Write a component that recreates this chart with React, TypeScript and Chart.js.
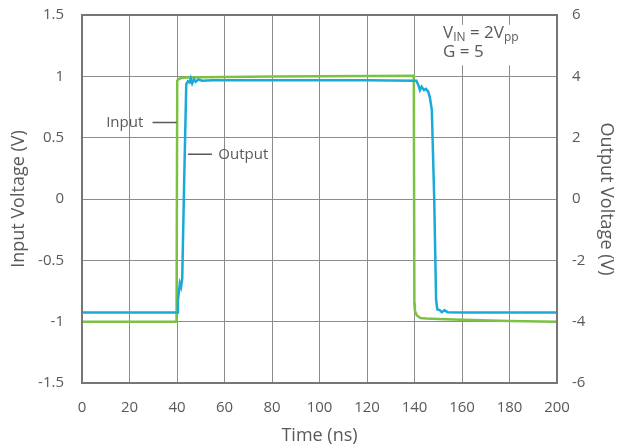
import React, { useEffect, useRef } from 'react';
import { Chart, registerables } from 'chart.js';
Chart.register(...registerables);

// ---- data ----
const inputTime = [0, 39.8, 40.1, 40.5, 41.2, 42, 44, 50, 60, 80, 100, 120, 139.7, 139.95, 140.15, 141, 142.5, 145, 150, 160, 180, 200];
const inputVolt = [-1, -1, 0.965, 0.975, 0.982, 0.986, 0.99, 0.993, 0.995, 0.998, 1.0, 1.003, 1.005, -0.85, -0.91, -0.95, -0.97, -0.975, -0.978, -0.985, -0.995, -1.0];

const outputTime = [0, 40.0, 40.4, 41.2, 41.7, 42.2, 43.0, 43.9, 44.6, 45.3, 45.8, 46.4, 47.2, 47.9, 49.0, 50.5, 55, 80, 120, 140.8, 141.6, 142.3, 143.0, 144.0, 144.8, 145.8, 146.5, 147.3, 148.3, 149.1, 149.6, 150.6, 151.5, 152.6, 154, 160, 200];
const outputVolt = [-3.7, -3.7, -3.3, -2.75, -2.87, -2.6, 0.5, 3.75, 3.84, 3.8, 3.93, 3.77, 3.91, 3.82, 3.9, 3.86, 3.87, 3.87, 3.87, 3.86, 3.72, 3.55, 3.66, 3.55, 3.59, 3.5, 3.3, 2.9, 0, -3.3, -3.6, -3.62, -3.69, -3.63, -3.69, -3.7, -3.7];

const xTitle = 'Time (ns)';
const yTitle = 'Input Voltage (V)';
const y2Title = 'Output Voltage (V)';
const inputLabel = 'Input';
const outputLabel = 'Output';

const FONT = '"Open Sans", sans-serif';
const TEXT = '#595959';
const GRID = '#8c8c8c';
const FRAME = '#767676';
const GREEN = '#7cc242';
const BLUE = '#19aad9';

export default function App() {
  const ref = useRef<HTMLCanvasElement>(null);
  useEffect(() => {
    document.body.style.margin = '0';
    const annot = {
      id: 'annot',
      beforeDatasetsDraw(chart: any) {
        const { ctx, chartArea } = chart;
        const x = chart.scales.x, y = chart.scales.y;
        ctx.save();
        // white box behind the condition text
        const bx = x.getPixelForValue(142.5);
        const bt = y.getPixelForValue(1.42);
        const bb = y.getPixelForValue(1.09);
        ctx.fillStyle = '#ffffff';
        ctx.fillRect(bx, bt, chartArea.right - bx - 1, bb - bt);
        ctx.fillStyle = TEXT;
        ctx.textBaseline = 'alphabetic';
        ctx.textAlign = 'left';
        const big = `17px ${FONT}`, small = `12px ${FONT}`;
        let tx = x.getPixelForValue(152);
        const r1 = y.getPixelForValue(1.31);
        const parts: [string, boolean][] = [['V', false], ['IN', true], [' = 2V', false], ['pp', true]];
        for (const [t, sub] of parts) {
          ctx.font = sub ? small : big;
          ctx.fillText(t, tx, r1 + (sub ? 3 : 0));
          tx += ctx.measureText(t).width;
        }
        ctx.font = big;
        ctx.fillText('G = 5', x.getPixelForValue(152), y.getPixelForValue(1.155));
        ctx.restore();
      },
      afterDatasetsDraw(chart: any) {
        const { ctx, chartArea } = chart;
        const x = chart.scales.x, y = chart.scales.y;
        ctx.save();
        // labels with leader lines
        ctx.strokeStyle = TEXT;
        ctx.lineWidth = 1.5;
        ctx.beginPath();
        const iy = y.getPixelForValue(0.624);
        ctx.moveTo(x.getPixelForValue(29.7), iy);
        ctx.lineTo(x.getPixelForValue(39.8), iy);
        const oy = y.getPixelForValue(0.364);
        ctx.moveTo(x.getPixelForValue(44.6), oy);
        ctx.lineTo(x.getPixelForValue(54.7), oy);
        ctx.stroke();
        ctx.fillStyle = TEXT;
        ctx.font = `15px ${FONT}`;
        ctx.textBaseline = 'middle';
        ctx.textAlign = 'right';
        ctx.fillText(inputLabel, x.getPixelForValue(25.8), iy);
        ctx.textAlign = 'left';
        ctx.fillText(outputLabel, x.getPixelForValue(57.4), oy);
        // frame
        ctx.strokeStyle = FRAME;
        ctx.lineWidth = 2;
        ctx.strokeRect(chartArea.left, chartArea.top, chartArea.right - chartArea.left, chartArea.bottom - chartArea.top);
        ctx.restore();
      },
    };
    const tickFont = { family: FONT, size: 15 };
    const titleFont = { family: FONT, size: 18 };
    const chart = new Chart(ref.current as HTMLCanvasElement, {
      type: 'scatter',
      data: {
        datasets: [
          {
            label: outputLabel,
            data: outputTime.map((t, i) => ({ x: t, y: outputVolt[i] })),
            yAxisID: 'y2',
            showLine: true,
            borderColor: BLUE,
            borderWidth: 2.5,
            pointRadius: 0,
            tension: 0,
          },
          {
            label: inputLabel,
            data: inputTime.map((t, i) => ({ x: t, y: inputVolt[i] })),
            yAxisID: 'y',
            showLine: true,
            borderColor: GREEN,
            borderWidth: 2.5,
            pointRadius: 0,
            tension: 0,
          },
        ],
      },
      options: {
        responsive: false,
        animation: false,
        layout: { padding: { top: 15, left: 0, right: 0, bottom: 0 } },
        plugins: { legend: { display: false }, tooltip: { enabled: false } },
        scales: {
          x: {
            type: 'linear',
            min: 0,
            max: 200,
            grid: { color: GRID, lineWidth: 1, drawTicks: false },
            border: { display: false },
            ticks: { stepSize: 20, padding: 16, color: TEXT, font: tickFont, maxRotation: 0 },
            title: { display: true, text: xTitle, color: TEXT, font: titleFont, padding: { top: 0, bottom: -1 } },
            afterFit: (s: any) => { s.height = 63; s.paddingLeft = 0; s.paddingRight = 0; },
          },
          y: {
            type: 'linear',
            position: 'left',
            min: -1.5,
            max: 1.5,
            grid: { color: GRID, lineWidth: 1, drawTicks: false },
            border: { display: false },
            ticks: { stepSize: 0.5, padding: 18, color: TEXT, font: tickFont, callback: (v: any) => String(v) },
            title: { display: true, text: yTitle, color: TEXT, font: titleFont, padding: { top: 8, bottom: 0 } },
            afterFit: (s: any) => { s.width = 82; s.paddingTop = 0; s.paddingBottom = 0; },
          },
          y2: {
            type: 'linear',
            position: 'right',
            min: -6,
            max: 6,
            grid: { display: false, drawTicks: false },
            border: { display: false },
            ticks: { stepSize: 2, padding: 15, color: TEXT, font: tickFont, callback: (v: any) => String(v) },
            title: { display: true, text: y2Title, color: TEXT, font: titleFont, padding: { top: 7, bottom: 0 } },
            afterFit: (s: any) => { s.width = 67; s.paddingTop = 0; s.paddingBottom = 0; },
          },
        },
      },
      plugins: [annot],
    } as any);
    return () => chart.destroy();
  }, []);
  return (
    <div style={{ width: 624, height: 446 }}>
      <canvas ref={ref} width={624} height={446} style={{ display: 'block' }} />
    </div>
  );
}
